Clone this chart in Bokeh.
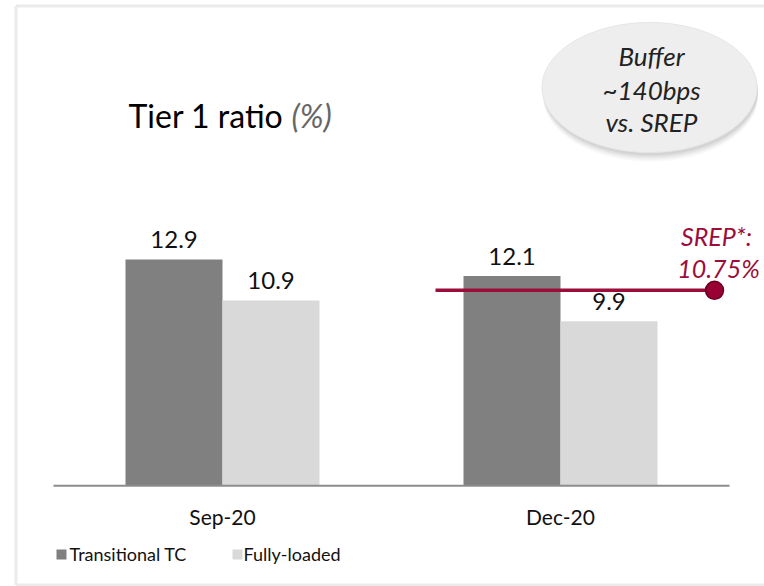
from bokeh.plotting import figure
from bokeh.models import Range1d
from bokeh.core.properties import value
from bokeh.embed import file_html
from bokeh.resources import INLINE

# ---------------- data ----------------
categories = ["Sep-20", "Dec-20"]
series_names = ["Transitional TC", "Fully-loaded"]
transitional_tc = [12.9, 12.1]
fully_loaded = [10.9, 9.9]
srep_value_label = ["SREP*:", "10.75%"]
srep_line_level = 11.4          # level at which the SREP line is drawn in the picture
value_axis_start = 1.9          # value where the category axis sits
buffer_text = ["Buffer", "~140bps", "vs. SREP"]
title_main = "Tier 1 ratio"
title_unit = "(%)"

# ---------------- layout ----------------
W, H = 764, 586
OFF = 0
PX_PER_CAT = 338.0
PX_PER_UNIT = 20.57
X0_PAGE = 222.0      # page x of first category centre
Y0_PAGE = 524.3      # page y of value 0
XMIN = -(X0_PAGE - OFF) / PX_PER_CAT
XMAX = XMIN + W / PX_PER_CAT
YMAX = (Y0_PAGE - OFF) / PX_PER_UNIT
YMIN = YMAX - H / PX_PER_UNIT


def X(px):
    return XMIN + (px - OFF) / PX_PER_CAT


def Y(py):
    return YMAX - (py - OFF) / PX_PER_UNIT


def YT(py, fs):
    # text baseline correction for the svg renderer
    return Y(py - 0.45 * fs)


FONT = value("Lato")
DARK = "#808080"
LIGHT = "#d9d9d9"
CRIMSON = "#9b0d3a"

p = figure(width=W, height=H, output_backend="svg", toolbar_location=None,
           x_range=Range1d(XMIN, XMAX), y_range=Range1d(YMIN, YMAX),
           x_axis_type=None, y_axis_type=None, min_border=0,
           outline_line_color=None, background_fill_color="white",
           border_fill_color="white")
p.grid.visible = False

# frame border
p.multi_line(xs=[[X(15.5), X(15.5)], [X(15.5), X(800)], [X(15.5), X(800)]],
             ys=[[Y(5.5), Y(584.5)], [Y(5.5), Y(5.5)], [Y(584.5), Y(584.5)]],
             line_color="#ebebeb", line_width=3)

bw = 0.287
idx = list(range(len(categories)))
x_tc = [i - bw / 2 for i in idx]
x_fl = [i + bw / 2 for i in idx]

p.vbar(x=x_tc, top=transitional_tc, bottom=value_axis_start, width=bw,
       fill_color=DARK, line_color=None)
p.vbar(x=x_fl, top=fully_loaded, bottom=value_axis_start, width=bw,
       fill_color=LIGHT, line_color=None)

# bar labels
LBL = 24
p.text(x=x_tc + x_fl, y=transitional_tc + fully_loaded,
       text=[f"{v:.1f}" for v in transitional_tc + fully_loaded],
       text_align="center", text_baseline="alphabetic", y_offset=-(9 + 0.45 * LBL),
       text_font=FONT, text_font_size=f"{LBL}px", text_color="#111111")

# category axis line
p.segment(x0=[-0.5], y0=[value_axis_start], x1=[len(categories) - 0.5],
          y1=[value_axis_start], line_color="#8c8c8c", line_width=2)

# category labels
CAT = 21
p.text(x=idx, y=[YT(525, CAT)] * len(idx), text=categories, text_align="center",
       text_baseline="alphabetic", text_font=FONT, text_font_size=f"{CAT}px",
       text_color="#111111")

# SREP line
p.segment(x0=[X(435)], y0=[srep_line_level], x1=[X(714)], y1=[srep_line_level],
          line_color=CRIMSON, line_width=3.5)
p.scatter(x=[X(714)], y=[srep_line_level], size=18, marker="circle",
          fill_color="#990033", line_color="#6a0020", line_width=1.5)
SR = 25
p.text(x=[X(716), X(718)], y=[YT(247, SR), YT(279, SR)], text=srep_value_label,
       text_align="center", text_baseline="alphabetic",
       text_font=FONT, text_font_style="italic", text_font_size=f"{SR}px",
       text_color=CRIMSON)

# title
TT = 32
p.text(x=[X(128)], y=[YT(129, TT)], text=[title_main], text_align="left",
       text_baseline="alphabetic", text_font=FONT, text_font_size=f"{TT}px",
       text_color="#000000")
p.text(x=[X(291)], y=[YT(129, TT)], text=[title_unit], text_align="left",
       text_baseline="alphabetic", text_font=FONT, text_font_style="italic",
       text_font_size=f"{TT}px", text_color="#666666")

# bubble with shadow
for k, a in [(8, 0.04), (6, 0.06), (4, 0.08), (2, 0.1)]:
    p.ellipse(x=[X(650)], y=[Y(88 + k)], width=215, height=130,
              width_units="screen", height_units="screen",
              fill_color="#555555", fill_alpha=a, line_color=None)
p.ellipse(x=[X(649)], y=[Y(87)], width=215, height=130,
          width_units="screen", height_units="screen",
          fill_color="#eeeeee", line_color="#e6e6e6", line_width=1)
BF = 26
p.text(x=[X(651)] * 3, y=[YT(67, BF), YT(101, BF), YT(133, BF)], text=buffer_text,
       text_align="center", text_baseline="alphabetic",
       text_font=FONT, text_font_style="italic", text_font_size=f"{BF}px",
       text_color="#222222")

# legend
p.scatter(x=[X(61), X(237)], y=[Y(554), Y(554)], marker="square", size=10,
          fill_color=[DARK, LIGHT], line_color=None)
LG = 18
p.text(x=[X(69), X(243)], y=[YT(562, LG), YT(562, LG)], text=series_names,
       text_align="left", text_baseline="alphabetic", text_font=FONT,
       text_font_size=f"{LG}px", text_color="#111111")

open("out.html", "w").write(file_html(p, INLINE))
